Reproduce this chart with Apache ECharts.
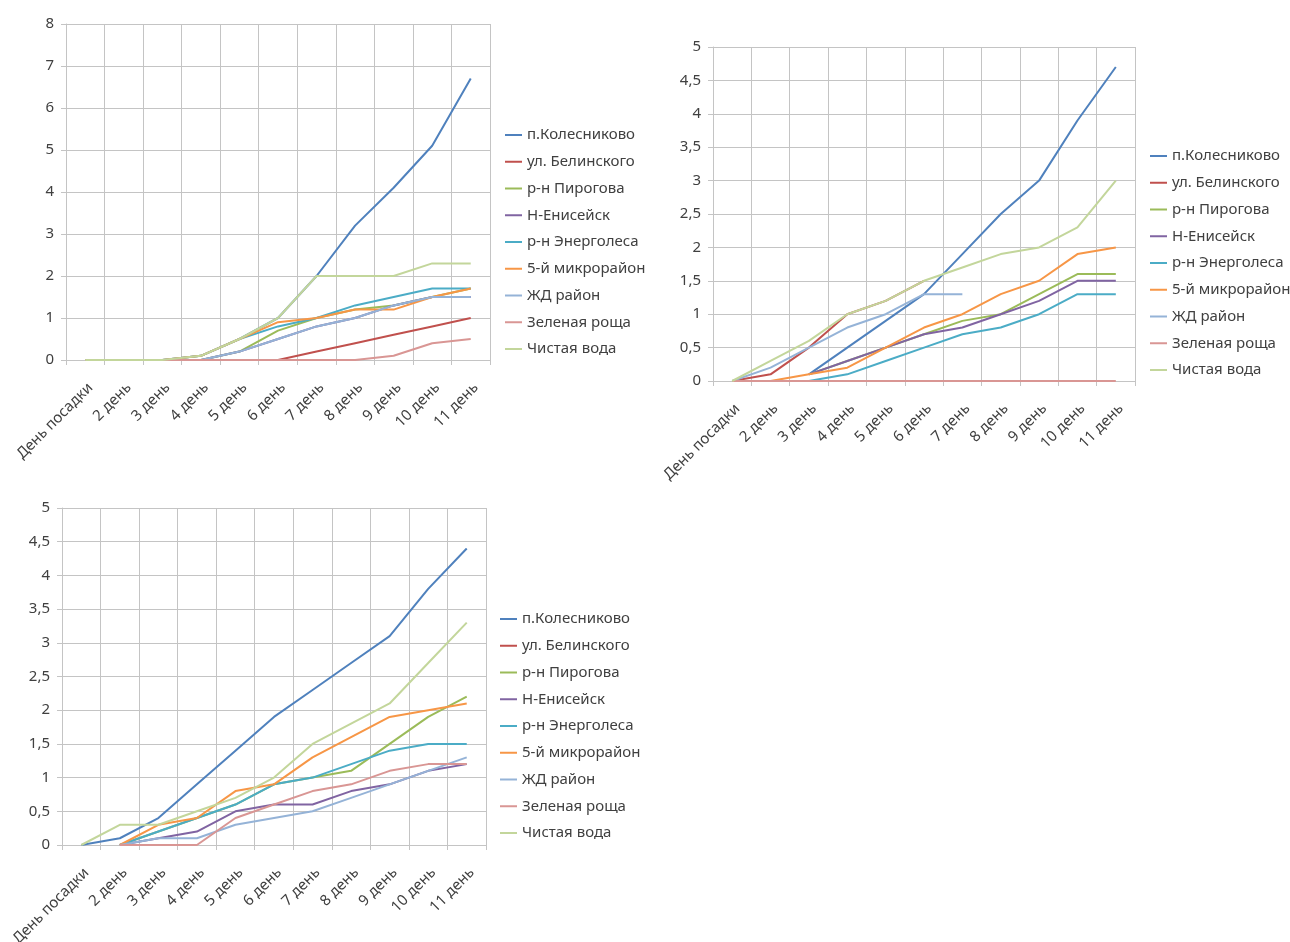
<!DOCTYPE html>
<html>
<head>
<meta charset="utf-8">
<script src="https://cdn.jsdelivr.net/npm/echarts@6/dist/echarts.min.js"></script>
<style>
html,body{margin:0;padding:0;background:#fff;}
#c{width:1290px;height:942px;}
</style>
</head>
<body>
<div id="c"></div>
<script>
const categories = ['День посадки','2 день','3 день','4 день','5 день','6 день','7 день','8 день','9 день','10 день','11 день'];
const seriesNames = ['п.Колесниково','ул. Белинского','р-н Пирогова','Н-Енисейск','р-н Энерголеса','5-й микрорайон','ЖД район','Зеленая роща','Чистая вода'];

// Chart 1 (top-left)
const kol1   = [0,0,0,0.1,0.5,1.0,2.0,3.2,4.1,5.1,6.7];
const bel1   = [null,null,null,null,null,0,0.2,0.4,0.6,0.8,1.0];
const pir1   = [0,0,0,0,0.2,0.7,1.0,1.2,1.3,1.5,1.7];
const enis1  = [0,0,0,0,0.2,0.5,0.8,1.0,1.3,1.5,1.5];
const energ1 = [0,0,0,0.1,0.5,0.8,1.0,1.3,1.5,1.7,1.7];
const mkr1   = [0,0,0,0.1,0.5,0.9,1.0,1.2,1.2,1.5,1.7];
const zhd1   = [0,0,0,0,0.2,0.5,0.8,1.0,1.3,1.5,1.5];
const zel1   = [0,0,0,0,0,0,0,0,0.1,0.4,0.5];
const chist1 = [0,0,0,0.1,0.5,1.0,2.0,2.0,2.0,2.3,2.3];

// Chart 2 (top-right)
const kol2   = [null,null,0.1,0.5,0.9,1.3,1.9,2.5,3.0,3.9,4.7];
const bel2   = [0,0.1,0.5,1.0,1.2,1.5,null,null,null,null,null];
const pir2   = [null,null,0.1,0.3,0.5,0.7,0.9,1.0,1.3,1.6,1.6];
const enis2  = [null,null,0.1,0.3,0.5,0.7,0.8,1.0,1.2,1.5,1.5];
const energ2 = [null,null,0,0.1,0.3,0.5,0.7,0.8,1.0,1.3,1.3];
const mkr2   = [null,0,0.1,0.2,0.5,0.8,1.0,1.3,1.5,1.9,2.0];
const zhd2   = [0,0.2,0.5,0.8,1.0,1.3,1.3,null,null,null,null];
const zel2   = [0,0,0,0,0,0,0,0,0,0,0];
const chist2 = [0,0.3,0.6,1.0,1.2,1.5,1.7,1.9,2.0,2.3,3.0];

// Chart 3 (bottom-left)
const kol3   = [0,0.1,0.4,0.9,1.4,1.9,2.3,2.7,3.1,3.8,4.4];
const bel3   = [null,null,null,null,null,null,null,null,null,null,null];
const pir3   = [null,0,0.2,0.4,0.6,0.9,1.0,1.1,1.5,1.9,2.2];
const enis3  = [null,0,0.1,0.2,0.5,0.6,0.6,0.8,0.9,1.1,1.2];
const energ3 = [null,0,0.2,0.4,0.6,0.9,1.0,1.2,1.4,1.5,1.5];
const mkr3   = [null,0,0.3,0.4,0.8,0.9,1.3,1.6,1.9,2.0,2.1];
const zhd3   = [null,0,0.1,0.1,0.3,0.4,0.5,0.7,0.9,1.1,1.3];
const zel3   = [null,0,0,0,0.4,0.6,0.8,0.9,1.1,1.2,1.2];
const chist3 = [0,0.3,0.3,0.5,0.7,1.0,1.5,1.8,2.1,2.7,3.3];

const yMax = [8, 5, 5];
const yInterval = [1, 0.5, 0.5];

const colors = ['#4F81BD','#C0504D','#9BBB59','#8064A2','#4BACC6','#F79646','#95B3D7','#D99694','#C3D69B'];
const FONT = 'Noto Sans';
const TXT = '#404040';
const GRID = '#C4C4C4';

const chartData = [
  [kol1,bel1,pir1,enis1,energ1,mkr1,zhd1,zel1,chist1],
  [kol2,bel2,pir2,enis2,energ2,mkr2,zhd2,zel2,chist2],
  [kol3,bel3,pir3,enis3,energ3,mkr3,zhd3,zel3,chist3]
];

const grids = [
  {left:66, top:24, width:424, height:336},
  {left:713, top:47, width:422, height:334},
  {left:62, top:508, width:424, height:337}
];
const legendPos = [
  {left:505, top:127},
  {left:1150, top:148},
  {left:500, top:611}
];

const option = {
  animation:false,
  backgroundColor:'#fff',
  color: colors,
  grid: grids.map(g => Object.assign({containLabel:false, outerBoundsMode:'none'}, g)),
  xAxis: grids.map((g,i) => ({
    type:'category', gridIndex:i, data:categories, boundaryGap:true,
    axisLine:{show:true, lineStyle:{color:GRID, width:1}},
    axisTick:{show:true, length:5, lineStyle:{color:GRID}},
    splitLine:{show:true, lineStyle:{color:GRID, width:1}},
    axisLabel:{rotate:45, margin:20, fontSize:15, color:TXT, fontFamily:FONT, interval:0,
      align:'right', verticalAlign:'top'}
  })),
  yAxis: grids.map((g,i) => ({
    type:'value', gridIndex:i, min:0, max:yMax[i], interval:yInterval[i],
    axisLine:{show:true, lineStyle:{color:GRID, width:1}},
    axisTick:{show:true, length:5, lineStyle:{color:GRID}},
    splitLine:{show:true, lineStyle:{color:GRID, width:1}},
    axisLabel:{margin:12, fontSize:15, color:TXT, fontFamily:FONT,
      formatter: v => String(v).replace('.', ',')}
  })),
  legend: legendPos.map(p => ({
    orient:'vertical', left:p.left, top:p.top, padding:0, data:seriesNames,
    icon:'rect', itemWidth:17, itemHeight:2, itemGap:10.75,
    selectedMode:false,
    textStyle:{fontSize:15, lineHeight:16, color:TXT, fontFamily:FONT}
  })),
  series: []
};

chartData.forEach((arrs, ci) => {
  arrs.forEach((arr, si) => {
    option.series.push({
      type:'line', name:seriesNames[si], xAxisIndex:ci, yAxisIndex:ci,
      data:arr, symbol:'none', showSymbol:false, connectNulls:false,
      lineStyle:{width:2, color:colors[si]}, itemStyle:{color:colors[si]},
      emphasis:{disabled:true}
    });
  });
});

const chart = echarts.init(document.getElementById('c'), null, {renderer:'canvas'});
chart.setOption(option);
</script>
</body>
</html>
